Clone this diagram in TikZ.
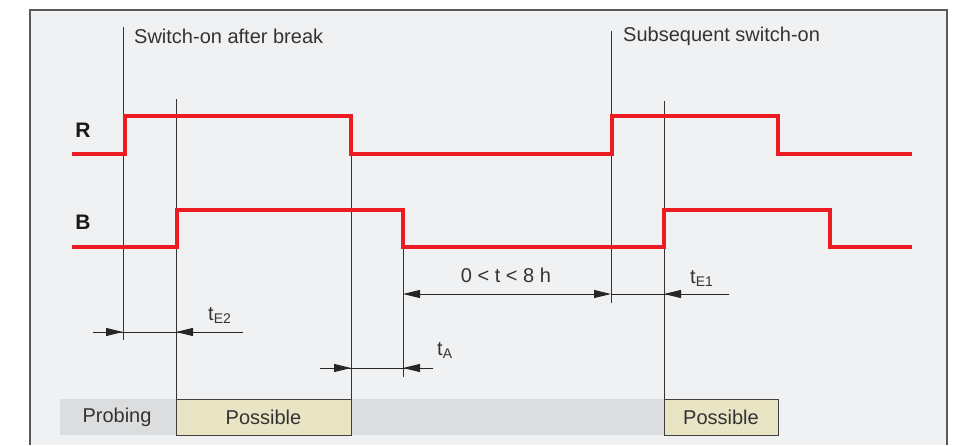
\documentclass[tikz,border=0pt]{standalone}
\usepackage{fontspec}
\setmainfont{Liberation Sans}
\usetikzlibrary{arrows.meta}
\definecolor{sigred}{HTML}{ED1C24}
\definecolor{panelgray}{HTML}{F0F1F3}
\definecolor{probegray}{HTML}{DCDDDF}
\definecolor{possbeige}{HTML}{E8E4C4}
\definecolor{inkgray}{HTML}{333333}

\begin{document}
\begin{tikzpicture}[x=1pt, y=-1pt,
  signal/.style={sigred, line width=4pt, line join=miter},
  guide/.style={draw=inkgray, line width=0.9pt},
  dimline/.style={draw=black!85, line width=0.9pt},
  tip/.style={-{Triangle[length=17pt,width=8pt]}},
  lbl/.style={text=inkgray, font=\fontsize{20}{24}\selectfont, inner sep=0pt},
  sig/.style={text=black!90, font=\fontsize{21}{24}\selectfont\bfseries, inner sep=0pt},
  possible/.style={lbl, draw=black!75, line width=0.9pt, fill=possbeige, outer sep=0pt,
    minimum height=36pt, anchor=north west}]
  \useasboundingbox (0,0) rectangle (957,445);
  \fill[panelgray] (30,10) rectangle (947,445);
  \draw[black!65, line width=1.5pt] (30,445) -- (30,10) -- (947,10) -- (947,445);

  \node[lbl, anchor=west] (brktxt) at (134,36) {Switch-on after break};
  \node[lbl, anchor=west] (subtxt) at (623,36) {Subsequent switch-on};
  \node[sig] (rlbl) at (83,130) {R};
  \node[sig] (blbl) at (83,222) {B};

  \fill[probegray] (60,399) rectangle (664,435);
  \node[lbl] (probing) at (117,417) {Probing};
  \node[possible, minimum width=175pt] (poss1) at (176,399) {Possible};
  \node[possible, minimum width=114pt] (poss2) at (664,399) {Possible};

  \draw[guide] (123,27) -- (123,340);
  \draw[guide] (176,99) -- (poss1.north west);
  \draw[guide] (351,154) -- (poss1.north east);
  \draw[guide] (403,247) -- (403,377);
  \draw[guide] (611,31) -- (611,303);
  \draw[guide] (664,101) -- (poss2.north west);

  \draw[signal] (72,154) -- (125,154) -- (125,116) -- (351,116) -- (351,154)
    -- (612,154) -- (612,116) -- (778,116) -- (778,154) -- (912,154);
  \draw[signal] (72,247) -- (177,247) -- (177,210) -- (403,210) -- (403,247)
    -- (664,247) -- (664,210) -- (830,210) -- (830,247) -- (912,247);

  \coordinate (e2l) at (93,332);
  \coordinate (e2r) at (243,332);
  \draw[dimline] (e2l) -- (e2r);
  \draw[dimline, tip] (e2l) -- (123,332);
  \draw[dimline, tip] (e2r) -- (176,332);
  \node[lbl, anchor=base west] (te2) at (208,320) {t\textsubscript{E2}};

  \coordinate (tal) at (320,368);
  \coordinate (tar) at (433,368);
  \draw[dimline] (tal) -- (tar);
  \draw[dimline, tip] (tal) -- (351,368);
  \draw[dimline, tip] (tar) -- (403,368);
  \node[lbl, anchor=base west] (ta) at (437,355) {t\textsubscript{A}};

  \coordinate (gapl) at (403,294);
  \coordinate (gapr) at (611,294);
  \coordinate (e1r) at (729,294);
  \draw[dimline, {Triangle[length=17pt,width=8pt]}-{Triangle[length=17pt,width=8pt]}] (gapl) -- (gapr);
  \draw[dimline] (gapr) -- (e1r);
  \draw[dimline, tip] (e1r) -- (664,294);
  \node[lbl, anchor=base] (gap) at (506,282) {0 < t < 8 h};
  \node[lbl, anchor=base west] (te1) at (690,283) {t\textsubscript{E1}};
\end{tikzpicture}
\end{document}
